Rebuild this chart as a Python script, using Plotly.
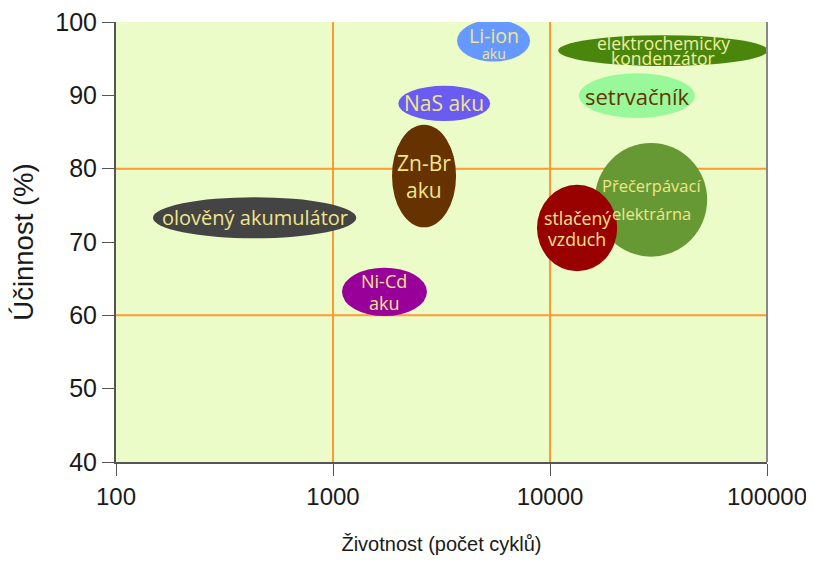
import math
import plotly.graph_objects as go

# ---- data ----
names = ["Li-ion<br>aku", "elektrochemický<br>kondenzátor", "setrvačník", "NaS aku",
         "Zn-Br<br>aku", "Přečerpávací<br>elektrárna", "stlačený<br>vzduch",
         "olověný akumulátor", "Ni-Cd<br>aku"]
cycles_min = [3730, 10900, 13600, 2000, 1870, 16100, 8710, 148, 1100]
cycles_max = [8090, 101000, 46500, 5300, 3690, 53000, 20400, 1280, 2710]
eff_min = [94.6, 94.0, 86.9, 86.5, 72.0, 68.0, 66.0, 70.5, 59.9]
eff_max = [100.3, 98.2, 93.0, 91.3, 86.0, 83.5, 77.8, 76.1, 66.5]

x_ticks = [100, 1000, 10000, 100000]
y_ticks = [40, 50, 60, 70, 80, 90, 100]
x_grid = [1000, 10000]
y_grid = [60, 80]

# ---- styles ----
fill_colors = ["#6699ff", "#4b860c", "#99f899", "#6a5cf0", "#663300", "#669933",
               "#990000", "#444444", "#990099"]
text_colors = ["#f0e68c", "#eef0a0", "#663300", "#f0e68c", "#f0e68c", "#f0e68c",
               "#f0e68c", "#f0e68c", "#f0e68c"]
line_sizes = [[19.5, 14], [17.5, 17.5], [22], [21], [21, 21], [16.5, 16.5],
              [17.7, 17.7], [20], [18, 18]]
line_gaps = [18, 15, 0, 0, 27, 28, 21, 0, 22]
text_shift = [-3, 0, 0, 0, 0, 0, 0, 0, 0]

fig = go.Figure()
fig.add_trace(go.Scatter(x=[100, 100000], y=[40, 100], mode="markers",
                         marker=dict(opacity=0), hoverinfo="skip", showlegend=False))

shapes = []
for gx in x_grid:
    shapes.append(dict(type="line", xref="x", yref="y", x0=gx, x1=gx, y0=40, y1=100,
                       line=dict(color="#ff9933", width=2), layer="below"))
for gy in y_grid:
    shapes.append(dict(type="line", xref="x", yref="y", x0=100, x1=100000, y0=gy, y1=gy,
                       line=dict(color="#ff9933", width=2), layer="below"))
for i in range(len(names)):
    shapes.append(dict(type="circle", xref="x", yref="y",
                       x0=cycles_min[i], x1=cycles_max[i], y0=eff_min[i], y1=eff_max[i],
                       fillcolor=fill_colors[i], line=dict(width=0), layer="below"))
shapes.append(dict(type="line", xref="paper", yref="paper", x0=1, x1=1, y0=0, y1=1,
                   line=dict(color="#888888", width=2)))

annotations = []
for i, n in enumerate(names):
    cx = (math.log10(cycles_min[i]) + math.log10(cycles_max[i])) / 2
    cy = (eff_min[i] + min(eff_max[i], 100)) / 2
    lines = n.split("<br>")
    k = len(lines)
    for j, ln in enumerate(lines):
        ys = text_shift[i] + ((k - 1) / 2 - j) * line_gaps[i]
        annotations.append(dict(x=cx, y=cy, xref="x", yref="y", text=ln, showarrow=False,
                                yshift=ys, borderpad=0,
                                font=dict(family="Open Sans", size=line_sizes[i][j],
                                          color=text_colors[i])))

fig.update_layout(
    width=798, height=551,
    margin=dict(l=108, r=39, t=14, b=97),
    paper_bgcolor="white",
    plot_bgcolor="#ecfcc8",
    shapes=shapes,
    annotations=annotations,
    showlegend=False,
    font=dict(family="Liberation Sans", size=25, color="#1a1a1a"),
    xaxis=dict(type="log", range=[2, 5], tickvals=x_ticks,
               ticktext=[str(v) for v in x_ticks], automargin=False,
               ticklabeloverflow="allow",
               showgrid=False, zeroline=False, showline=True, linecolor="#555555",
               linewidth=2, ticks="outside", ticklen=12, tickcolor="#555555",
               tickfont=dict(size=24),
               title=dict(text="Životnost (počet cyklů)", standoff=28,
                          font=dict(size=20))),
    yaxis=dict(range=[40, 100], tickvals=y_ticks, showgrid=False, zeroline=False,
               automargin=False, ticklabeloverflow="allow",
               showline=True, linecolor="#555555", linewidth=2, ticks="outside",
               ticklen=12, tickcolor="#555555", tickfont=dict(size=25),
               title=dict(text="Účinnost (%)", standoff=18, font=dict(size=27.5))),
)

fig.write_html("out.html")
